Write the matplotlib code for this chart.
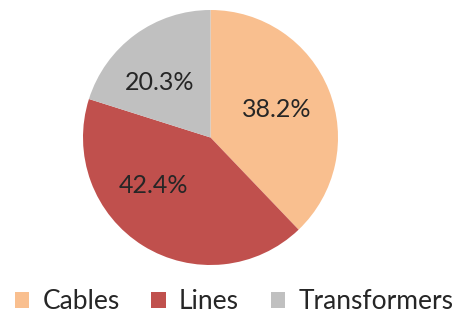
import matplotlib
matplotlib.use("Agg")
import matplotlib.pyplot as plt

categories = ["Cables", "Lines", "Transformers"]
shares = [38.2, 42.4, 20.3]
colors = ["#F9BF8F", "#C0504D", "#C0C0C0"]

plt.rcParams["font.family"] = ["Lato", "DejaVu Sans"]

fig = plt.figure(figsize=(4.59, 3.25), dpi=100)
ax = fig.add_axes([83 / 459, 60 / 325, 255 / 459, 255 / 325])

wedges, _ = ax.pie(shares, colors=colors, startangle=90, counterclock=False,
                   wedgeprops=dict(linewidth=0))
ax.set_xlim(-1, 1)
ax.set_ylim(-1, 1)
ax.set_aspect("equal")

# value labels placed inside each wedge
label_pos = [(0.52, 0.22), (-0.45, -0.38), (-0.40, 0.43)]
for (x, y), v in zip(label_pos, shares):
    ax.text(x, y, f"{v:.1f}%", ha="center", va="center", fontsize=18,
            color="#262626")

leg = fig.legend(wedges, categories, loc="center", bbox_to_anchor=(0.51, 0.072),
                 ncol=3, frameon=False, fontsize=19, handlelength=0.55,
                 handleheight=0.55, handletextpad=0.5, columnspacing=1.2,
                 labelcolor="#262626")

fig.savefig("out.png", dpi=100)
